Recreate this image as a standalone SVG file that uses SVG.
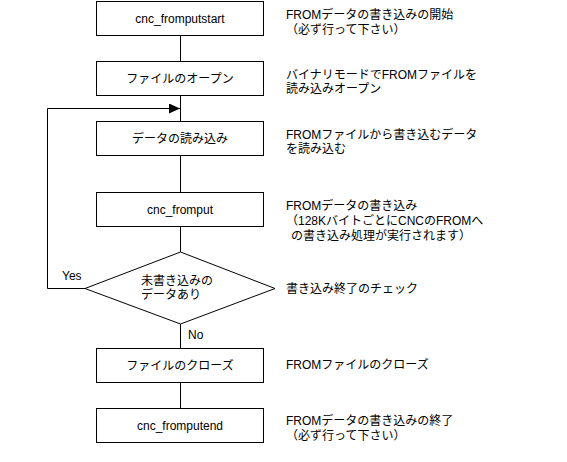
<svg xmlns="http://www.w3.org/2000/svg" width="567" height="462" viewBox="0 0 567 462">
<defs>
<style>
.box{fill:#fff;stroke:#000;stroke-width:1}
.ln{fill:none;stroke:#000;stroke-width:1}
text{font-family:"Liberation Sans","Noto Sans CJK JP",sans-serif;font-size:12px;fill:#000}
.c{text-anchor:middle}
</style>
<marker id="arr" markerWidth="12" markerHeight="10" refX="11" refY="5" orient="auto" markerUnits="userSpaceOnUse">
<path d="M0,0 L11,5 L0,10 Z" fill="#000"/>
</marker>
</defs>
<rect width="567" height="462" fill="#fff"/>
<g id="connectors">
<path class="ln" d="M180.5,35 V61"/>
<path class="ln" d="M180.5,96 V121"/>
<path class="ln" d="M180.5,156 V192"/>
<path class="ln" d="M180.5,227 V252"/>
<path class="ln" d="M180.5,324 V348"/>
<path class="ln" d="M180.5,383 V408"/>
<path class="ln" d="M85,288.5 H47.5 V108.5 H180" marker-end="url(#arr)"/>
<text x="62" y="280">Yes</text>
<text x="188" y="339">No</text>
</g>
<g id="n1">
<rect class="box" x="96.5" y="1.5" width="167" height="34"/>
<text class="c" x="180" y="23">cnc_fromputstart</text>
<text x="286" y="19">FROMデータの書き込みの開始</text>
<text x="286" y="34">（必ず行って下さい）</text>
</g>
<g id="n2">
<rect class="box" x="96.5" y="61.5" width="167" height="34"/>
<text class="c" x="180" y="83">ファイルのオープン</text>
<text x="286" y="79">バイナリモードでFROMファイルを</text>
<text x="286" y="93">読み込みオープン</text>
</g>
<g id="n3">
<rect class="box" x="96.5" y="121.5" width="167" height="34"/>
<text class="c" x="180" y="143">データの読み込み</text>
<text x="286" y="139">FROMファイルから書き込むデータ</text>
<text x="286" y="153">を読み込む</text>
</g>
<g id="n4">
<rect class="box" x="96.5" y="192.5" width="167" height="34"/>
<text class="c" x="180" y="214">cnc_fromput</text>
<text x="286" y="210">FROMデータの書き込み</text>
<text x="286" y="225">（128KバイトごとにCNCのFROMへ</text>
<text x="291" y="240">の書き込み処理が実行されます）</text>
</g>
<g id="n5">
<polygon class="box" points="180.5,252 275,288.5 180.5,324 85,288.5"/>
<text x="141" y="285">未書き込みの</text>
<text x="141" y="299">データあり</text>
<text x="286" y="293">書き込み終了のチェック</text>
</g>
<g id="n6">
<rect class="box" x="96.5" y="348.5" width="167" height="34"/>
<text class="c" x="180" y="370">ファイルのクローズ</text>
<text x="286" y="369">FROMファイルのクローズ</text>
</g>
<g id="n7">
<rect class="box" x="96.5" y="408.5" width="167" height="34"/>
<text class="c" x="180" y="430">cnc_fromputend</text>
<text x="286" y="425">FROMデータの書き込みの終了</text>
<text x="286" y="440">（必ず行って下さい）</text>
</g>
</svg>
